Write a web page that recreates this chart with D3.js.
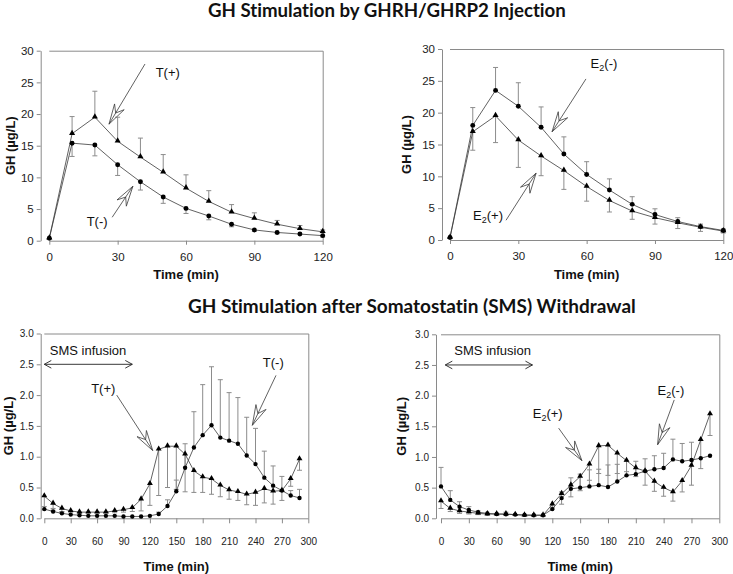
<!DOCTYPE html>
<html><head><meta charset="utf-8">
<script src="https://cdn.jsdelivr.net/npm/d3@7"></script>
<style>body{margin:0;background:#fff}svg{display:block}text{font-variant-ligatures:none;font-feature-settings:"liga" 0,"clig" 0}</style>
</head><body>
<svg id="c" width="733" height="574"></svg>
<script>
// ---------------- DATA ----------------
const topTime = [0,10,20,30,40,50,60,70,80,90,100,110,120];
const bottomTime = [0,10,20,30,40,50,60,70,80,90,100,110,120,130,140,150,160,170,180,190,200,210,220,230,240,250,260,270,280,290];

// Top-left: GHRH/GHRP2, testosterone
const tlTplus    = [0.4,16.9,19.5,15.7,13.2,10.8,8.3,6.2,4.5,3.5,2.6,1.9,1.4];
const tlTplusErr = [0.4,19.6,23.6,19.5,16.2,13.6,10.4,7.9,5.7,4.4,3.2,2.4,1.7];
const tlTminus    = [0.4,15.4,15.1,12.0,9.3,6.9,5.1,3.9,2.6,1.7,1.3,1.05,0.8];
const tlTminusErr = [0.4,13.3,13.4,10.3,8.0,5.9,4.3,3.3,2.2,1.5,1.1,0.9,0.6];

// Top-right: GHRH/GHRP2, estradiol
const trEminus    = [0.4,18.0,23.5,21.0,17.7,13.5,10.3,7.85,5.6,4.0,2.9,2.1,1.5];
const trEminusErr = [0.4,20.8,27.1,24.7,20.9,16.2,12.3,9.6,6.8,4.9,3.5,2.5,1.7];
const trEplus     = [0.4,17.0,19.5,15.7,13.2,10.9,8.4,6.2,4.55,3.5,2.7,2.0,1.4];
const trEplusErr  = [0.4,14.1,15.3,11.4,10.1,7.95,6.1,4.4,3.25,2.5,1.8,1.35,1.1];

// Bottom-left: SMS withdrawal, testosterone
const blTplus    = [0.36,0.24,0.16,0.12,0.10,0.10,0.10,0.10,0.12,0.14,0.17,0.31,0.56,1.12,1.17,1.17,1.04,0.77,0.67,0.64,0.535,0.46,0.43,0.39,0.42,0.48,0.44,0.45,0.64,0.96];
const blTplusErr = [0.14,0.16,0.11,0.09,0.08,0.08,0.08,0.08,0.09,0.10,0.11,0.12,0.21,0.37,0.50,0.47,0.43,0.42,0.42,0.39,0.35,0.31,0.29,0.22,0.21,0.25,0.23,0.29,0.52,0.78];
const blTminus    = [0.15,0.11,0.08,0.06,0.05,0.04,0.04,0.04,0.04,0.03,0.03,0.03,0.04,0.07,0.20,0.44,0.82,1.15,1.35,1.51,1.31,1.26,1.21,1.02,0.88,0.66,0.53,0.45,0.37,0.33];
const blTminusErr = [0.19,0.13,0.10,0.07,0.06,0.05,0.05,0.05,0.05,0.04,0.04,0.04,0.05,0.10,0.30,0.62,1.21,1.73,2.17,2.46,2.25,2.04,1.96,1.64,1.46,1.09,0.85,0.68,0.45,0.47];

// Bottom-right: SMS withdrawal, estradiol
const brEminus    = [0.52,0.30,0.19,0.135,0.10,0.08,0.07,0.065,0.06,0.055,0.05,0.05,0.15,0.33,0.48,0.50,0.52,0.54,0.51,0.60,0.70,0.72,0.77,0.80,0.82,0.96,0.93,0.95,0.98,1.02];
const brEminusErr = [0.83,0.45,0.27,0.19,0.12,0.09,0.08,0.10,0.07,0.06,0.06,0.06,0.18,0.43,0.66,0.72,0.79,0.80,0.87,0.88,0.93,0.93,0.97,1.02,1.06,1.29,1.22,1.24,0.98,1.02];
const brEplus     = [0.28,0.16,0.12,0.10,0.08,0.07,0.07,0.07,0.06,0.05,0.05,0.05,0.23,0.40,0.54,0.68,0.88,1.18,1.19,1.06,0.94,0.82,0.77,0.60,0.50,0.43,0.61,0.86,1.28,1.70];
const brEplusErr  = [0.16,0.11,0.08,0.07,0.06,0.05,0.05,0.05,0.05,0.04,0.04,0.04,0.15,0.23,0.35,0.45,0.62,0.73,0.70,0.73,0.76,0.68,0.54,0.44,0.36,0.28,0.43,0.54,0.81,1.35];

// Axis ticks and texts
const topXTicks = [0,30,60,90,120];
const topYTicks = [0,5,10,15,20,25,30];
const botXTicks = [0,30,60,90,120,150,180,210,240,270,300];
const botYTicks = [0,0.5,1.0,1.5,2.0,2.5,3.0];
const title1 = "GH Stimulation by GHRH/GHRP2 Injection";
const title2 = "GH Stimulation after Somatostatin (SMS) Withdrawal";
const xTitle = "Time (min)";
const yTitle = "GH (\u00B5g/L)";
const smsLabel = "SMS infusion";

// ---------------- DRAWING ----------------
const svg = d3.select('#c');
const AX = '#8a8a8a', LINE = '#3a3a3a', ERR = '#8c8c8c';
const TICKFONT = '"Liberation Sans", Arial, sans-serif';

function fitTitle(txt, x, y, width) {
  const t = svg.append('text').attr('x', x).attr('y', y)
    .attr('font-family', 'Lato, "Open Sans", sans-serif').attr('font-weight', 700)
    .attr('font-size', 16).attr('fill', '#111').text(txt);
  const w = t.node().getComputedTextLength();
  t.attr('font-size', 16 * width / w);
}
fitTitle(title1, 208, 17, 358);
fitTitle(title2, 188, 313, 448);

function headPath(tx, ty, sx, sy, len, ang, notch) {
  const a = Math.atan2(sy - ty, sx - tx);
  const p1 = [tx + len * Math.cos(a + ang), ty + len * Math.sin(a + ang)];
  const p2 = [tx + len * Math.cos(a - ang), ty + len * Math.sin(a - ang)];
  if (notch) {
    const n = [tx + notch * Math.cos(a), ty + notch * Math.sin(a)];
    return `M${p1}L${tx},${ty}L${p2}L${n}Z`;
  }
  return `M${p1}L${tx},${ty}L${p2}`;
}

function label(g, x, y, base, sub, rest) {
  const t = g.append('text').attr('x', x).attr('y', y).attr('text-anchor', 'middle')
    .attr('font-family', TICKFONT).attr('font-size', 13).attr('fill', '#111');
  t.append('tspan').text(base);
  if (sub) {
    t.append('tspan').attr('font-size', 9).attr('dy', 3).text(sub);
    t.append('tspan').attr('dy', -3).text(rest);
  }
}

function drawPanel(p) {
  const x = d3.scaleLinear().domain([0, p.xMax]).range([p.x0, p.x1]);
  const y = d3.scaleLinear().domain([0, p.yMax]).range([p.y0, p.y1]);
  const g = svg.append('g');

  // frame top/right
  g.append('path').attr('d', `M${x(0)},${y(p.yMax)+0.5}H${x(p.xMax)+0.5}V${y(0)}`)
    .attr('fill', 'none').attr('stroke', AX).attr('stroke-width', 1);

  // y axis
  const ya = g.append('g').attr('transform', `translate(${p.axisX},0)`)
    .call(d3.axisLeft(y).tickValues(p.yTicks).tickFormat(p.yFmt).tickSize(4).tickSizeOuter(0).tickPadding(3));
  // x axis
  const xa = g.append('g').attr('transform', `translate(0,${y(0)})`)
    .call(d3.axisBottom(x).tickValues(p.xTicks).tickFormat(d3.format('d')).tickSize(p.xTickSize).tickSizeOuter(0).tickPadding(p.xPad));
  [ya, xa].forEach(a => {
    a.attr('font-family', TICKFONT).attr('font-size', p.tickFont);
    a.select('.domain').attr('stroke', AX);
    a.selectAll('.tick line').attr('stroke', AX);
    a.selectAll('.tick text').attr('fill', '#222');
  });

  // axis titles
  g.append('text').attr('x', (p.x0 + p.x1) / 2).attr('y', p.xTitleY).attr('text-anchor', 'middle')
    .attr('font-family', TICKFONT).attr('font-weight', 700).attr('font-size', 13).attr('fill', '#111').text(xTitle);
  g.append('text').attr('transform', `translate(${p.yTitleX},${(y(0) + y(p.yMax)) / 2}) rotate(-90)`)
    .attr('text-anchor', 'middle').attr('dy', '0.35em')
    .attr('font-family', TICKFONT).attr('font-weight', 700).attr('font-size', 13).attr('fill', '#111').text(yTitle);

  // error bars
  p.series.forEach(s => {
    const eg = g.append('g').attr('stroke', ERR).attr('stroke-width', 1).attr('fill', 'none');
    p.time.forEach((t, i) => {
      const v = s.values[i], e = s.err[i];
      if (Math.abs(y(v) - y(e)) < 1) return;
      eg.append('line').attr('x1', x(t)).attr('x2', x(t)).attr('y1', y(v)).attr('y2', y(e));
      eg.append('line').attr('x1', x(t) - p.cap).attr('x2', x(t) + p.cap).attr('y1', y(e)).attr('y2', y(e));
    });
  });
  // lines
  p.series.forEach(s => {
    g.append('path').datum(p.time.map((t, i) => [t, s.values[i]]))
      .attr('d', d3.line().x(d => x(d[0])).y(d => y(d[1])))
      .attr('fill', 'none').attr('stroke', LINE).attr('stroke-width', 0.8);
  });
  // markers
  p.series.forEach(s => {
    const sym = d3.symbol().type(s.shape === 'tri' ? d3.symbolTriangle : d3.symbolCircle)
      .size(s.shape === 'tri' ? p.triSize : p.circSize);
    g.append('g').selectAll('path').data(p.time.map((t, i) => [t, s.values[i]])).join('path')
      .attr('transform', d => `translate(${x(d[0])},${y(d[1]) + (s.shape === 'tri' ? -0.5 : 0)})`)
      .attr('d', sym).attr('fill', '#000');
  });

  // annotations
  p.annots.forEach(a => {
    label(g, x(a.lx), y(a.ly) + 4.5, a.base, a.sub, a.rest);
    const sx = x(a.sx), sy = y(a.sy), tx = x(a.tx), ty = y(a.ty);
    g.append('line').attr('x1', sx).attr('y1', sy).attr('x2', tx).attr('y2', ty)
      .attr('stroke', LINE).attr('stroke-width', 0.8);
    g.append('path').attr('d', headPath(tx, ty, sx, sy, 21, 0.27, 13))
      .attr('fill', 'none').attr('stroke', LINE).attr('stroke-width', 0.8);
  });
  if (p.sms) {
    const s = p.sms;
    g.append('text').attr('x', x(s.lx)).attr('y', y(s.ly) + 4.5).attr('text-anchor', 'middle')
      .attr('font-family', TICKFONT).attr('font-size', 13).attr('fill', '#111').text(smsLabel);
    const ax0 = x(s.from), ax1 = x(s.to), ay = y(s.y);
    g.append('line').attr('x1', ax0).attr('x2', ax1).attr('y1', ay).attr('y2', ay).attr('stroke', '#222').attr('stroke-width', 0.9);
    g.append('path').attr('d', headPath(ax0, ay, ax1, ay, 8, 0.5) + headPath(ax1, ay, ax0, ay, 8, 0.5))
      .attr('fill', 'none').attr('stroke', '#222').attr('stroke-width', 0.9);
  }
}

const topCommon = { xMax: 120, yMax: 30, time: topTime, xTicks: topXTicks, yTicks: topYTicks,
  yFmt: d3.format('d'), tickFont: 11.5, xTickSize: 4, xPad: 8, xTitleY: 279, cap: 2.5, triSize: 16, circSize: 19 };
const botCommon = { xMax: 300, yMax: 3, time: bottomTime, xTicks: botXTicks, yTicks: botYTicks,
  yFmt: d3.format('.1f'), tickFont: 10, xTickSize: 5, xPad: 15, xTitleY: 571, cap: 2.5, triSize: 15, circSize: 15 };

drawPanel(Object.assign({}, topCommon, {
  x0: 49.3, x1: 322.7, y0: 240.7, y1: 50.7, axisX: 40.7, yTitleX: 10,
  series: [
    { values: tlTplus, err: tlTplusErr, shape: 'tri' },
    { values: tlTminus, err: tlTminusErr, shape: 'circ' }
  ],
  annots: [
    { base: 'T(+)', lx: 52, ly: 26.5, sx: 42, sy: 27.9, tx: 26.2, ty: 18.4 },
    { base: 'T(-)', lx: 21, ly: 3.0, sx: 27.6, sy: 3.7, tx: 36.7, ty: 8.6 }
  ]
}));

drawPanel(Object.assign({}, topCommon, {
  x0: 450, x1: 723.3, y0: 240, y1: 49, axisX: 442, yTitleX: 406,
  series: [
    { values: trEminus, err: trEminusErr, shape: 'circ' },
    { values: trEplus, err: trEplusErr, shape: 'tri' }
  ],
  annots: [
    { base: 'E', sub: '2', rest: '(-)', lx: 67.6, ly: 27.8, sx: 59.7, sy: 25.3, tx: 44.8, ty: 17.0 },
    { base: 'E', sub: '2', rest: '(+)', lx: 16.7, ly: 3.9, sx: 24.6, sy: 3.1, tx: 37.8, ty: 10.5 }
  ]
}));

drawPanel(Object.assign({}, botCommon, {
  x0: 44.3, x1: 308.3, y0: 518.3, y1: 333.5, axisX: 40.7, yTitleX: 8,
  series: [
    { values: blTplus, err: blTplusErr, shape: 'tri' },
    { values: blTminus, err: blTminusErr, shape: 'circ' }
  ],
  annots: [
    { base: 'T(+)', lx: 67, ly: 2.11, sx: 82.3, sy: 2.0, tx: 123.2, ty: 1.10 },
    { base: 'T(-)', lx: 260.2, ly: 2.53, sx: 263.3, sy: 2.32, tx: 236.4, ty: 1.51 }
  ],
  sms: { lx: 49.7, ly: 2.72, from: 0, to: 100, y: 2.5 }
}));

drawPanel(Object.assign({}, botCommon, {
  x0: 441, x1: 719.3, y0: 518.3, y1: 334.3, axisX: 436, yTitleX: 401,
  series: [
    { values: brEminus, err: brEminusErr, shape: 'circ' },
    { values: brEplus, err: brEplusErr, shape: 'tri' }
  ],
  annots: [
    { base: 'E', sub: '2', rest: '(+)', lx: 115, ly: 1.71, sx: 126.8, sy: 1.47, tx: 151.9, ty: 0.94 },
    { base: 'E', sub: '2', rest: '(-)', lx: 247.8, ly: 2.09, sx: 251.4, sy: 1.93, tx: 233.5, ty: 1.2 }
  ],
  sms: { lx: 55.7, ly: 2.73, from: 4.6, to: 98.6, y: 2.5 }
}));
</script>
</body></html>
